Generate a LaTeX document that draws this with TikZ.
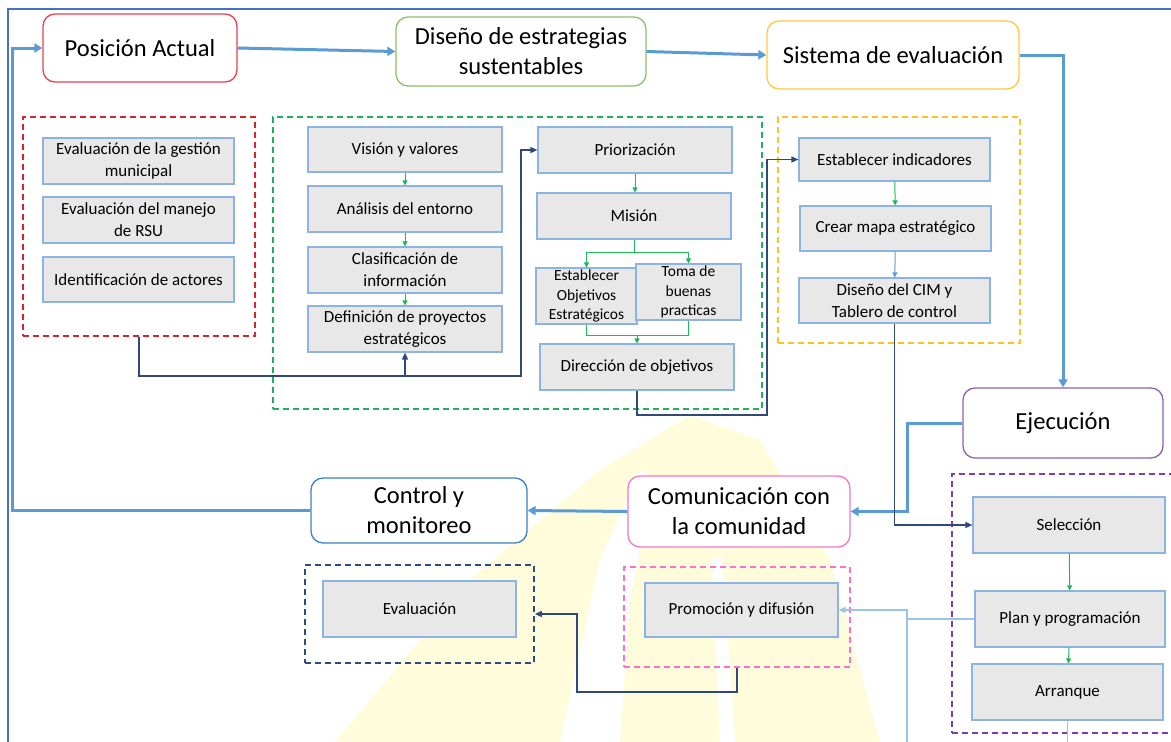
\documentclass[tikz,border=0pt]{standalone}
\usepackage{fontspec}
\setmainfont{Carlito}
\usetikzlibrary{arrows.meta}

\definecolor{flowblue}{HTML}{5B9BD5}
\definecolor{framebl}{HTML}{4472C4}
\definecolor{navy}{HTML}{2F4A7A}
\definecolor{okgreen}{HTML}{1DB954}
\definecolor{taskfill}{HTML}{E8E8E8}
\definecolor{taskline}{HTML}{8DB3E2}
\definecolor{lightln}{HTML}{9DC3E6}
\definecolor{cRed}{HTML}{E8424F}
\definecolor{cGreen}{HTML}{8CC06A}
\definecolor{cYellow}{HTML}{FFC83D}
\definecolor{cPurple}{HTML}{8A63B0}
\definecolor{cPink}{HTML}{EE7ACB}
\definecolor{cBlue}{HTML}{3D7FC1}
\definecolor{dRed}{HTML}{D0262C}
\definecolor{dGreen}{HTML}{22AE5E}
\definecolor{dYellow}{HTML}{FFC31F}
\definecolor{dPurple}{HTML}{7B3FB0}
\definecolor{dPink}{HTML}{FF6FCF}
\definecolor{dNavy}{HTML}{2B4C7E}
\definecolor{emblemfill}{HTML}{FFFCDC}

\tikzset{
  stage/.style={draw, rounded corners=12pt, line width=1.3pt, fill=white,
    align=center, inner sep=2pt, font=\fontsize{24.5}{30}\selectfont},
  task/.style={draw=taskline, fill=taskfill, line width=1.1pt, align=center,
    inner sep=1pt, font=\fontsize{17}{22}\selectfont},
  smalltask/.style={task, font=\fontsize{15.5}{19.5}\selectfont},
  group/.style={draw, dash pattern=on 6pt off 4pt, line width=1.7pt},
  flow/.style={draw=flowblue, line width=3pt, -{Triangle[length=8pt,width=9pt]}},
  link/.style={draw=navy, line width=1.4pt, -{Triangle[length=7pt,width=6pt]}},
  thin link/.style={draw=lightln, line width=1.3pt},
  nextstep/.style={draw=okgreen, line width=1pt, -{Triangle[length=5pt,width=5pt]}},
}

\begin{document}
\begin{tikzpicture}[x=1pt,y=-1pt]
\useasboundingbox (0,0) rectangle (1171,742);

% faint background emblem
\fill[emblemfill] (335,742) -- (470,580) -- (600,470) -- (690,415) -- (760,440)
  -- (830,560) -- (880,742) -- cycle;
\fill[white] (560,742) -- (600,560) -- (640,470) -- (655,480) -- (630,600) -- (620,742) -- cycle;
\fill[white] (720,742) -- (712,560) -- (722,556) -- (735,742) -- cycle;

% page frame
\draw[framebl, line width=1.5pt] (8,742) -- (8,9) -- (1171,9);

% dashed groups
\node[group, draw=dRed,    minimum width=232, minimum height=219] (grpR) at (139,226.5) {};
\node[group, draw=dGreen,  minimum width=489, minimum height=292] (grpG) at (517.5,263) {};
\node[group, draw=dYellow, minimum width=242, minimum height=226] (grpY) at (899,230) {};
\node[group, draw=dPurple, minimum width=222, minimum height=259] (grpP) at (1063,603.5) {};
\node[group, draw=dPink,   minimum width=226, minimum height=100] (grpK) at (737,617) {};
\node[group, draw=dNavy,   minimum width=229, minimum height=98]  (grpN) at (419.5,614) {};

% main stages
\node[stage, draw=cRed,    minimum width=194, minimum height=68] (pos) at (140,48) {Posición Actual};
\node[stage, draw=cGreen,  minimum width=250, minimum height=69] (dis) at (521,51.5) {Diseño de estrategias\\sustentables};
\node[stage, draw=cYellow, minimum width=252, minimum height=68] (sis) at (893,55) {Sistema de evaluación};
\node[stage, draw=cPurple, minimum width=200, minimum height=70] (eje) at (1063,423) {Ejecución};
\node[stage, draw=cPink,   minimum width=222, minimum height=71] (com) at (739,511.5) {Comunicación con\\la comunidad};
\node[stage, draw=cBlue,   minimum width=216, minimum height=65] (con) at (419,510.5) {Control y\\monitoreo};

% diagnosis tasks
\node[task, minimum width=191, minimum height=46] (r1) at (138.5,161) {Evaluación de la gestión\\municipal};
\node[task, minimum width=191, minimum height=46] (r2) at (138.5,220) {Evaluación del manejo\\de RSU};
\node[task, minimum width=191, minimum height=45] (r3) at (138.5,279.5) {Identificación de actores};

% strategy design tasks
\node[task, minimum width=194, minimum height=45] (g1) at (405,149.5) {Visión y valores};
\node[task, minimum width=194, minimum height=46] (g2) at (405,209) {Análisis del entorno};
\node[task, minimum width=194, minimum height=46] (g3) at (405,270) {Clasificación de\\información};
\node[task, minimum width=194, minimum height=46] (g4) at (405,329) {Definición de proyectos\\estratégicos};
\node[task, minimum width=194, minimum height=46] (p1) at (635,150) {Priorización};
\node[task, minimum width=194, minimum height=46] (p2) at (634,216) {Misión};
\node[smalltask, minimum width=101, minimum height=56] (p3) at (586.5,296) {Establecer\\Objetivos\\Estratégicos};
\node[smalltask, minimum width=105, minimum height=56] (p4) at (688.5,292) {Toma de\\buenas\\practicas};
\node[task, minimum width=194, minimum height=46] (p5) at (637,367) {Dirección de objetivos};

% evaluation system tasks
\node[task, minimum width=191, minimum height=43] (y1) at (894.5,159.5) {Establecer indicadores};
\node[task, minimum width=191, minimum height=45] (y2) at (895.5,228.5) {Crear mapa estratégico};
\node[task, minimum width=191, minimum height=45] (y3) at (894.5,300.5) {Diseño del CIM y\\Tablero de control};

% execution tasks
\node[task, minimum width=192, minimum height=56] (s1) at (1069,525) {Selección};
\node[task, minimum width=190, minimum height=56] (s2) at (1070,619) {Plan y programación};
\node[task, minimum width=191, minimum height=56] (s3) at (1067.5,692) {Arranque};

% communication and control tasks
\node[task, minimum width=193, minimum height=54] (pr) at (741.5,610) {Promoción y difusión};
\node[task, minimum width=193, minimum height=56] (ev) at (419.5,609) {Evaluación};

% main cycle
\draw[flow] (pos.east) -- (dis.west);
\draw[flow] (dis.east) -- (sis.west);
\draw[flow] (sis.east) -| (eje.north);
\draw[flow] (eje.west) -- (907,423) |- (com.east);
\draw[flow] (com.west) -- (con.east);
\draw[flow] (con.west) -- (12,510.5) |- (pos.west);

% links between groups
\coordinate (jr) at (405,376);
\draw[link] (grpR.south) |- (jr) -| (521,300) |- (p1.west);
\draw[link] (jr) -- (g4.south);
\draw[link] (p5.south) |- (767,415) |- (y1.west);
\draw[link] (y3.south) |- (s1.west);
\draw[link] (grpK.south) |- (577,692) |- (grpN.east);

% execution feedback
\coordinate (jp) at (907,610);
\draw[thin link, -{Triangle[length=7pt,width=6pt]}] (s2.west) -- (907,619) -- (jp) -- (pr.east);
\draw[thin link] (jp) -- (907,742);
\draw[thin link] (s3.south) -- (1067.5,742);

% steps within groups
\draw[nextstep] (g1) -- (g2);
\draw[nextstep] (g2) -- (g3);
\draw[nextstep] (g3) -- (g4);
\draw[nextstep] (p1.south) -- (p1.south |- p2.north);
\coordinate (jm) at (634,252);
\draw[nextstep] (p2.south) -- (jm) -| (p3.north);
\draw[nextstep] (jm) -| (p4.north);
\coordinate (jd) at (637,335);
\draw[okgreen, line width=1pt] (p3.south) |- (jd);
\draw[okgreen, line width=1pt] (p4.south) |- (jd);
\draw[nextstep] (jd) -- (p5.north);
\draw[nextstep] (y1) -- (y2);
\draw[draw=flowblue, line width=1pt, -{Triangle[length=5pt,width=5pt]}] (y2) -- (y3);
\draw[nextstep] (s1) -- (s2);
\draw[nextstep] (s2) -- (s3);
\end{tikzpicture}
\end{document}
